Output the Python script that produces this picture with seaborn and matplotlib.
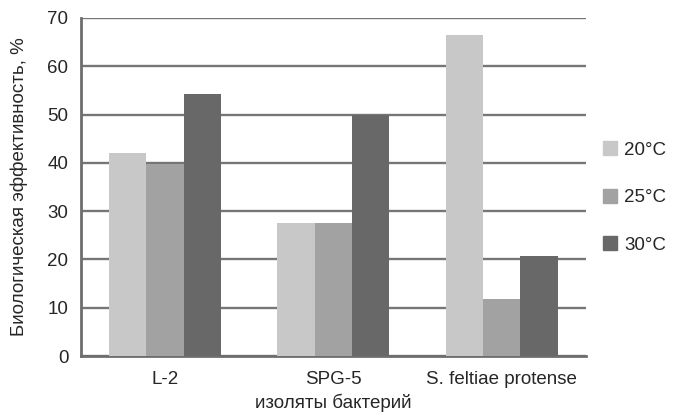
import matplotlib
matplotlib.use("Agg")
import matplotlib.pyplot as plt
import seaborn as sns
import pandas as pd

# Isolates and efficacy (%) at each temperature
isolates = ["L-2", "SPG-5", "S. feltiae protense"]
temps = ["20°C", "25°C", "30°C"]
eff_20 = [42.0, 27.6, 66.4]
eff_25 = [39.7, 27.6, 11.9]
eff_30 = [54.2, 49.9, 20.7]
yticks = [0, 10, 20, 30, 40, 50, 60, 70]

colors = ["#c8c8c8", "#a2a2a2", "#686868"]

df = pd.DataFrame({
    "isolate": isolates * 3,
    "temp": [temps[0]] * 3 + [temps[1]] * 3 + [temps[2]] * 3,
    "value": eff_20 + eff_25 + eff_30,
})

sns.set_style("white")
plt.rcParams["font.family"] = ["Liberation Sans", "DejaVu Sans"]

fs = 13.5
fig = plt.figure(figsize=(6.75, 4.16), dpi=100)
ax = fig.add_axes([0.12, 0.144, 0.748, 0.813])

sns.barplot(data=df, x="isolate", y="value", hue="temp", order=isolates,
            hue_order=temps, palette=colors, width=0.665, gap=0,
            linewidth=0, errorbar=None, ax=ax, legend=False, zorder=3)

ax.set_ylim(0, 70)
ax.set_xlim(-0.5, 2.5)
ax.set_yticks(yticks)
ax.set_yticklabels([str(t) for t in yticks], fontsize=fs)
ax.tick_params(axis="x", labelsize=fs, length=0, pad=11)
ax.tick_params(axis="y", length=0, pad=9)
ax.yaxis.grid(True, color="#767676", linewidth=1.7, zorder=0)
ax.set_axisbelow(True)

for side in ["top", "right"]:
    ax.spines[side].set_visible(False)
for side in ["left", "bottom"]:
    ax.spines[side].set_color("#6e6e6e")
    ax.spines[side].set_linewidth(2)

ax.set_xlabel("изоляты бактерий", fontsize=fs, labelpad=4)
ax.set_ylabel("Биологическая эффективность, %", fontsize=fs, labelpad=14)

handles = [plt.Rectangle((0, 0), 1, 1, color=c) for c in colors]
fig.legend(handles, temps, loc="center left", bbox_to_anchor=(0.88, 0.525),
           frameon=False, fontsize=fs, handlelength=0.75, handleheight=0.75,
           handletextpad=0.35, labelspacing=1.6, borderpad=0)

fig.savefig("out.png", dpi=100)
